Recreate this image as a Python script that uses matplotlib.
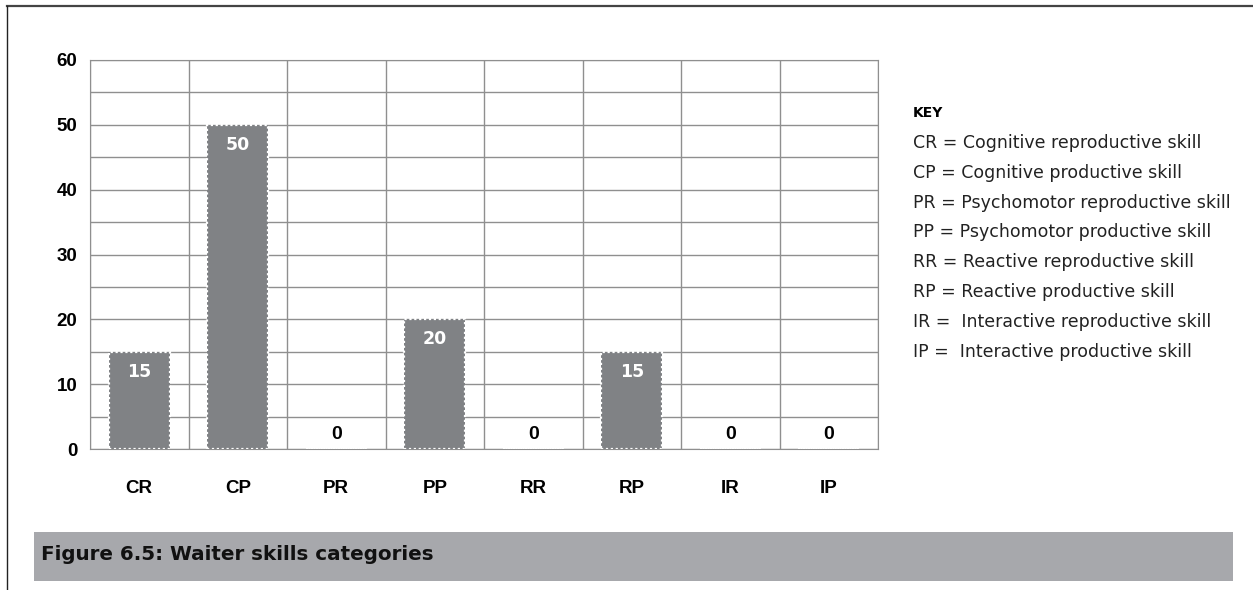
import numpy as np
import matplotlib.pyplot as plt
from matplotlib.patches import Rectangle
from matplotlib.lines import Line2D

# data
categories = ["CR", "CP", "PR", "PP", "RR", "RP", "IR", "IP"]
values = [15, 50, 0, 20, 0, 15, 0, 0]
key_title = "KEY"
key_lines = [
    "CR = Cognitive reproductive skill",
    "CP = Cognitive productive skill",
    "PR = Psychomotor reproductive skill",
    "PP = Psychomotor productive skill",
    "RR = Reactive reproductive skill",
    "RP = Reactive productive skill",
    "IR =  Interactive reproductive skill",
    "IP =  Interactive productive skill",
]
caption = "Figure 6.5: Waiter skills categories"

bar_color = "#808285"
grid_color = "#8f8f8f"

fig = plt.figure(figsize=(12.53, 5.90), dpi=100)

# outer frame: top and left lines only
fig.add_artist(Line2D([7/1253, 1], [1 - 6/590, 1 - 6/590], color="#444444", lw=1.6))
fig.add_artist(Line2D([7/1253, 7/1253], [0, 1 - 6/590], color="#222222", lw=1.0))

ax = fig.add_axes([90/1253, 1 - 449/590, 788/1253, 389/590])
x = np.arange(len(categories))
bars = ax.bar(x, values, width=0.62, color=bar_color, edgecolor="white",
              linestyle=(0, (1, 1.2)), linewidth=1.6, zorder=3)

ax.set_xlim(-0.5, len(categories) - 0.5)
ax.set_ylim(0, 60)
ax.set_yticks(np.arange(0, 61, 10))
ax.set_yticks(np.arange(0, 61, 5), minor=True)
ax.set_xticks(x)
ax.set_xticklabels(categories)
ax.set_xticks(np.arange(-0.5, len(categories), 1), minor=True)
ax.yaxis.grid(True, which="both", color=grid_color, lw=1.0, zorder=0)
ax.xaxis.grid(True, which="minor", color=grid_color, lw=1.0, zorder=0)
ax.xaxis.grid(False, which="major")
ax.set_axisbelow(True)
ax.tick_params(which="both", length=0)
ax.tick_params(axis="y", pad=9)
ax.tick_params(axis="x", pad=22)
for lab in ax.get_xticklabels() + ax.get_yticklabels():
    lab.set_fontweight("bold")
    lab.set_fontsize(13.5)
    lab.set_fontfamily("Liberation Sans")
for s in ax.spines.values():
    s.set_color(grid_color)

for xi, v in zip(x, values):
    if v > 0:
        ax.annotate(str(v), (xi, v), xytext=(0, -8), textcoords="offset points",
                    ha="center", va="top", color="white", fontsize=12.5,
                    fontweight="bold", fontfamily="DejaVu Sans", zorder=4)
    else:
        ax.text(xi, 2.2, str(v), ha="center", va="center", color="black",
                fontsize=14, fontweight="bold", fontfamily="Liberation Sans")

# key
fig.text(913/1253, 1 - 113/590, key_title, fontsize=10, fontweight="bold",
         fontfamily="DejaVu Sans", va="center", ha="left")
for i, line in enumerate(key_lines):
    fig.text(913/1253, 1 - (143 + i * 29.8)/590, line, fontsize=12.5,
             fontfamily="DejaVu Sans", va="center", ha="left", color="#222222")

# caption bar
fig.add_artist(Rectangle((34/1253, 1 - 581/590), (1233 - 34)/1253, 49/590,
                         transform=fig.transFigure, facecolor="#a7a8ac",
                         edgecolor="none"))
fig.text(41/1253, 1 - 555/590, caption, fontsize=14.3, fontweight="bold",
         fontfamily="DejaVu Sans", va="center", ha="left", color="#111111")

fig.savefig("out.png", dpi=100)
